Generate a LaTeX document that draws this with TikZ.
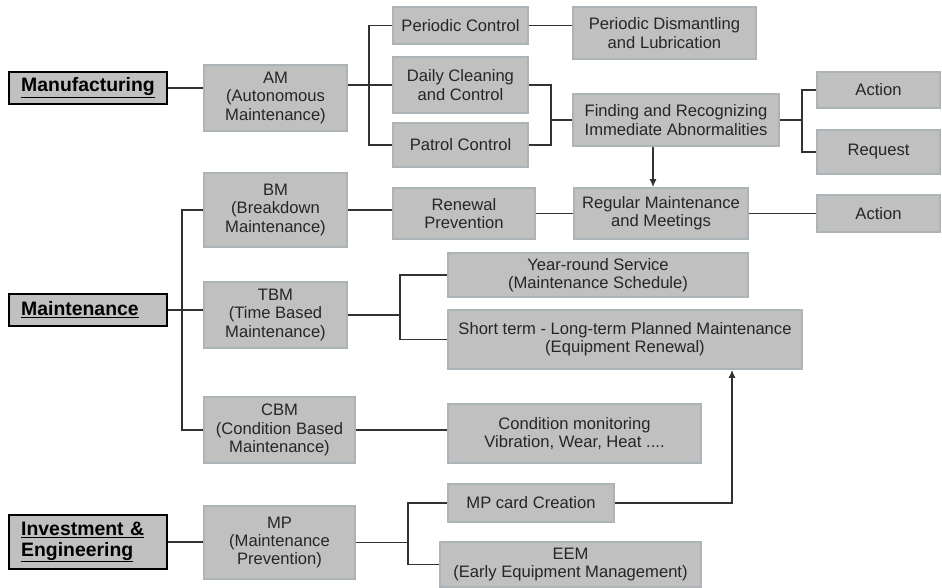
\documentclass[tikz,border=0pt]{standalone}
\usepackage{fontspec}
\setmainfont{Liberation Sans}
\usetikzlibrary{arrows.meta}
\definecolor{boxfill}{RGB}{192,192,192}
\definecolor{boxline}{RGB}{172,180,184}
\definecolor{txt}{RGB}{38,38,38}
\definecolor{wire}{RGB}{50,50,50}
\begin{document}
\begin{tikzpicture}[x=1pt,y=-1pt,
  gbox/.style={draw=boxline, line width=1.6pt, fill=boxfill, text=txt, align=center, inner sep=0pt,
    font=\fontsize{16.6}{18.2}\selectfont},
  catbox/.style={draw=black, line width=2.4pt, fill=boxfill, text=black, align=left, anchor=west,
    inner xsep=12pt, inner ysep=0pt, text width=134pt, font=\fontsize{19.4}{21}\selectfont\bfseries},
  wirestyle/.style={draw=wire, line width=1.5pt},
  arr/.style={wirestyle, -{Latex[length=8pt,width=7pt]}}]
\useasboundingbox (0,0) rectangle (942,588);
% category boxes
\node[catbox, minimum height=32pt] (manu) at (8,88) {\underline{Manufacturing}};
\node[catbox, minimum height=32pt] (maint) at (8,310) {\underline{Maintenance}};
\node[catbox, minimum height=54pt] (inv) at (8,542) {\underline{Investment \&}\\\underline{Engineering}};
% second column
\node[gbox, minimum width=143pt, minimum height=66pt] (AM) at (275.5,98) {AM\\(Autonomous\\Maintenance)};
\node[gbox, minimum width=143pt, minimum height=74pt] (BM) at (275.5,210) {BM\\(Breakdown\\Maintenance)};
\node[gbox, minimum width=143pt, minimum height=66pt] (TBM) at (275.5,315) {TBM\\(Time Based\\Maintenance)};
\node[gbox, minimum width=151pt, minimum height=66pt] (CBM) at (279.5,430) {CBM\\(Condition Based\\Maintenance)};
\node[gbox, minimum width=151pt, minimum height=73pt] (MP) at (279.5,542.5) {MP\\(Maintenance\\Prevention)};
% AM branch
\node[gbox, minimum width=135pt, minimum height=37pt] (PC) at (460.5,25.5) {Periodic Control};
\node[gbox, minimum width=135pt, minimum height=56pt] (DC) at (460.5,85) {Daily Cleaning\\and Control};
\node[gbox, minimum width=135pt, minimum height=44pt] (PT) at (460.5,145) {Patrol Control};
\node[gbox, minimum width=183pt, minimum height=52pt] (PDL) at (664.5,33) {Periodic Dismantling\\and Lubrication};
\node[gbox, minimum width=206pt, minimum height=52pt] (FIND) at (676,120) {Finding and Recognizing\\Immediate Abnormalities};
\node[gbox, minimum width=123pt, minimum height=36pt] (ACT1) at (878.5,90) {Action};
\node[gbox, minimum width=123pt, minimum height=44pt] (REQ) at (878.5,152) {Request};
% BM branch
\node[gbox, minimum width=142pt, minimum height=51pt] (REN) at (464,213.5) {Renewal\\Prevention};
\node[gbox, minimum width=174pt, minimum height=51pt] (REG) at (661,213.5) {Regular Maintenance\\and Meetings};
\node[gbox, minimum width=123pt, minimum height=37pt] (ACT2) at (878.5,213.5) {Action};
% TBM branch
\node[gbox, minimum width=300pt, minimum height=44pt] (YR) at (598,275) {Year-round Service\\(Maintenance Schedule)};
\node[gbox, minimum width=354pt, minimum height=59pt] (ST) at (625,339.5) {Short term - Long-term Planned Maintenance\\(Equipment Renewal)};
% CBM branch
\node[gbox, minimum width=253pt, minimum height=59pt] (COND) at (574.5,433.5) {Condition monitoring\\Vibration, Wear, Heat ....};
% MP branch
\node[gbox, minimum width=166pt, minimum height=38pt] (MPC) at (531,503) {MP card Creation};
\node[gbox, minimum width=261pt, minimum height=45pt] (EEM) at (570.5,564.5) {EEM\\(Early Equipment Management)};
% trunk coordinates
\coordinate (t1) at (369,0);
\coordinate (t2) at (551,0);
\coordinate (t3) at (802,0);
\coordinate (t4) at (182,0);
\coordinate (t5) at (400,0);
\coordinate (t6) at (408,0);
\coordinate (a1) at (653,0);
\coordinate (a2) at (732,0);
% connectors
\draw[wirestyle] (manu.east) -- (manu.east -| AM.west);
\draw[wirestyle] (DC.west) -- (DC.west -| AM.east);
\draw[wirestyle] (PC.west) -| (t1 |- PT.west) -- (PT.west);
\draw[wirestyle] (PC.east) -- (PC.east -| PDL.west);
\draw[wirestyle] (DC.east) -| (t2 |- PT.east) -- (PT.east);
\draw[wirestyle] (t2 |- FIND.west) -- (FIND.west);
\draw[wirestyle] (FIND.east) -- (FIND.east -| t3);
\draw[wirestyle] (ACT1.west) -| (t3 |- REQ.west) -- (REQ.west);
\draw[arr] (FIND.south -| a1) -- (REG.north -| a1);
\draw[wirestyle] (BM.east) -- (BM.east -| REN.west);
\draw[wirestyle] (REN.east) -- (REG.west);
\draw[wirestyle] (REG.east) -- (ACT2.west);
\draw[wirestyle] (BM.west) -| (t4 |- CBM.west) -- (CBM.west);
\draw[wirestyle] (maint.east) -- (maint.east -| TBM.west);
\draw[wirestyle] (TBM.east) -- (TBM.east -| t5);
\draw[wirestyle] (YR.west) -| (t5 |- ST.west) -- (ST.west);
\draw[wirestyle] (CBM.east) -- (CBM.east -| COND.west);
\draw[wirestyle] (inv.east) -- (inv.east -| MP.west);
\draw[wirestyle] (MP.east) -- (MP.east -| t6);
\draw[wirestyle] (MPC.west) -| (t6 |- EEM.west) -- (EEM.west);
\draw[arr] (MPC.east) -| (a2 |- ST.south);
\end{tikzpicture}
\end{document}
